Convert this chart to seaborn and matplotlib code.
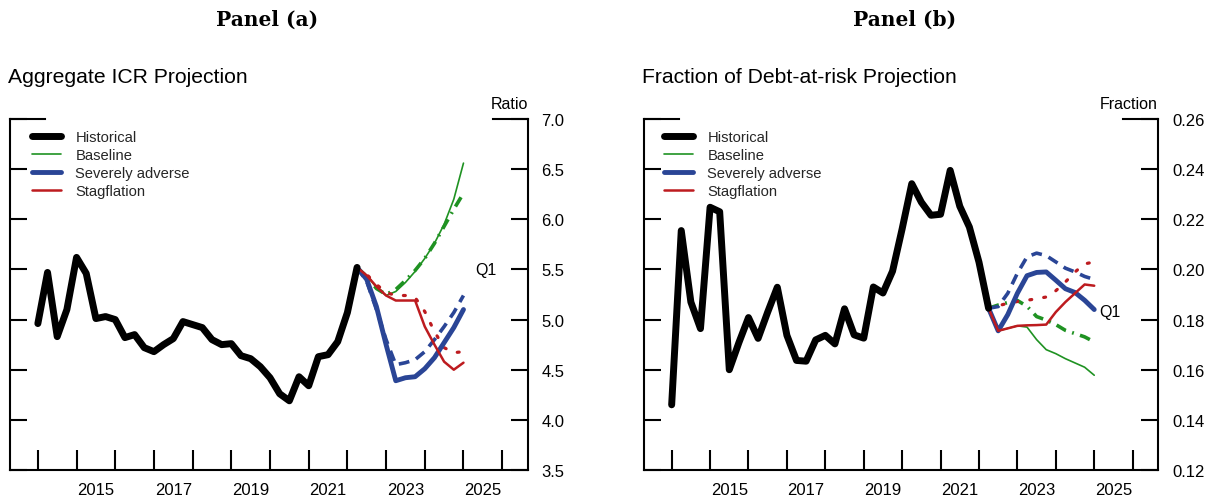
import numpy as np
import pandas as pd
import matplotlib
matplotlib.use("Agg")
import matplotlib.pyplot as plt
import seaborn as sns

# ---------------------------------------------------------------------------
# Data (quarterly).  Historical series start in 2014Q1, projections in 2022Q2.
# ---------------------------------------------------------------------------
HIST_START = "2014Q1"
PROJ_START = "2022Q2"

# Panel (a): aggregate interest coverage ratio
icr_hist = [4.96, 5.47, 4.83, 5.10, 5.62, 5.46, 5.01, 5.03, 5.00, 4.82,
            4.85, 4.72, 4.68, 4.75, 4.81, 4.98, 4.95, 4.92, 4.80, 4.75,
            4.76, 4.64, 4.61, 4.53, 4.42, 4.26, 4.19, 4.43, 4.34, 4.63,
            4.65, 4.78, 5.07, 5.52]
icr_base = [5.52, 5.44, 5.32, 5.24, 5.28, 5.37, 5.48, 5.61, 5.76, 5.95, 6.20, 6.56]
icr_base_q1 = [5.52, 5.43, 5.31, 5.25, 5.30, 5.39, 5.49, 5.61, 5.76, 5.93, 6.10, 6.26]
icr_sev = [5.52, 5.40, 5.13, 4.75, 4.39, 4.42, 4.43, 4.51, 4.62, 4.77, 4.92, 5.10]
icr_sev_q1 = [5.52, 5.38, 5.10, 4.80, 4.55, 4.57, 4.60, 4.68, 4.80, 4.93, 5.07, 5.24]
icr_stag = [5.52, 5.44, 5.33, 5.24, 5.19, 5.19, 5.19, 4.93, 4.75, 4.58, 4.50, 4.57]
icr_stag_q1 = [5.52, 5.45, 5.35, 5.27, 5.24, 5.24, 5.22, 5.08, 4.88, 4.72, 4.67, 4.68]

# Panel (b): fraction of debt at risk
frac_hist = [0.1460, 0.2155, 0.1870, 0.1764, 0.2248, 0.2230, 0.1600, 0.1708,
             0.1808, 0.1725, 0.1830, 0.1929, 0.1737, 0.1637, 0.1634, 0.1719,
             0.1737, 0.1703, 0.1843, 0.1739, 0.1726, 0.1930, 0.1906, 0.1993,
             0.2162, 0.2342, 0.2268, 0.2216, 0.2220, 0.2395, 0.2252, 0.2169,
             0.2029, 0.1845]
frac_base = [0.1845, 0.1755, 0.1765, 0.1775, 0.1770, 0.1720, 0.1680, 0.1664, 0.1644, 0.1627, 0.1610, 0.1578]
frac_base_q1 = [0.1845, 0.1858, 0.1868, 0.1876, 0.1853, 0.1812, 0.1798, 0.1780, 0.1757, 0.1744, 0.1731, 0.1711]
frac_sev = [0.1845, 0.1755, 0.1820, 0.1905, 0.1975, 0.1988, 0.1990, 0.1957, 0.1923, 0.1908, 0.1877, 0.1840]
frac_sev_q1 = [0.1845, 0.1852, 0.1905, 0.1985, 0.2050, 0.2065, 0.2055, 0.2030, 0.2005, 0.1990, 0.1972, 0.1960]
frac_stag = [0.1845, 0.1755, 0.1765, 0.1775, 0.1777, 0.1778, 0.1780, 0.1830, 0.1870, 0.1905, 0.1940, 0.1935]
frac_stag_q1 = [0.1845, 0.1855, 0.1865, 0.1872, 0.1877, 0.1883, 0.1890, 0.1915, 0.1950, 0.1990, 0.2022, 0.2030]

legend_labels = ["Historical", "Baseline", "Severely adverse", "Stagflation"]
year_labels = ["2015", "2017", "2019", "2021", "2023", "2025"]

# ---------------------------------------------------------------------------
GREEN = "#1f9222"
BLUE = "#2a4596"
RED = "#bd1b1f"

STYLES = {
    "hist":    dict(color="black", linewidth=5.0, solid_capstyle="round", solid_joinstyle="round"),
    "base":    dict(color=GREEN, linewidth=1.2),
    "base_q1": dict(color=GREEN, linewidth=2.6, linestyle=(0, (3.0, 1.8, 0.5, 1.8))),
    "sev":     dict(color=BLUE, linewidth=3.5, solid_joinstyle="round", solid_capstyle="round"),
    "sev_q1":  dict(color=BLUE, linewidth=2.6, linestyle=(0, (3.0, 2.0))),
    "stag":    dict(color=RED, linewidth=1.8),
    "stag_q1": dict(color=RED, linewidth=2.3, linestyle=(0, (0.6, 3.8)), dash_capstyle="round"),
}


def quarter_axis(start, n):
    p = pd.period_range(start, periods=n, freq="Q")
    return np.asarray(p.year + (p.quarter - 1) / 4.0, dtype=float)


def draw(ax, x, y, key):
    sns.lineplot(x=x, y=y, ax=ax, legend=False, sort=False, **STYLES[key])
    return ax.lines[-1]


def panel(ax, hist, proj, yticks, yfmt, unit, q1_xy, legend_x):
    xh = quarter_axis(HIST_START, len(hist))
    xp = quarter_axis(PROJ_START, len(proj["base"]))
    h_base = draw(ax, xp, proj["base"], "base")
    draw(ax, xp, proj["base_q1"], "base_q1")
    draw(ax, xp, proj["sev_q1"], "sev_q1")
    draw(ax, xp, proj["stag_q1"], "stag_q1")
    h_sev = draw(ax, xp, proj["sev"], "sev")
    h_stag = draw(ax, xp, proj["stag"], "stag")
    h_hist = draw(ax, xh, hist, "hist")

    ax.set_xlim(2013.28, 2026.66)
    ax.set_ylim(yticks[0], yticks[-1])
    ax.set_xlabel("")
    ax.set_ylabel("")

    # x axis: year boundaries as ticks, labels in the middle of odd years
    ax.set_xticks(np.arange(2014, 2027))
    ax.set_xticklabels([])
    ax.set_xticks([int(s) + 0.5 for s in year_labels], minor=True)
    ax.set_xticklabels(year_labels, minor=True)
    ax.tick_params(axis="x", which="major", direction="in", length=14.5,
                   width=1.5, color="black", bottom=True, top=False)
    ax.tick_params(axis="x", which="minor", length=0, pad=8.5,
                   labelsize=12, labelcolor="black")

    # y axis: labels on the right, inward ticks on both sides
    ax.set_yticks(yticks)
    ax.set_yticklabels([yfmt.format(v) for v in yticks])
    ax.tick_params(axis="y", direction="in", length=12, width=1.5, color="black",
                   left=True, right=True, labelleft=False, labelright=True,
                   pad=10, labelsize=12, labelcolor="black")

    for side in ("left", "right", "bottom"):
        ax.spines[side].set_visible(True)
        ax.spines[side].set_color("black")
        ax.spines[side].set_linewidth(1.5)
    ax.spines["top"].set_visible(False)
    # short stubs at both ends of the top edge
    w = ax.get_position().width * 1214
    stub = 35.0 / w
    for x0, x1 in ((0, stub), (1 - stub, 1)):
        ax.plot([x0, x1], [1, 1], transform=ax.transAxes, color="black",
                linewidth=1.5, clip_on=False, solid_capstyle="projecting")

    ax.text(1.0, 1.043, unit, transform=ax.transAxes, ha="right", va="center",
            fontsize=11.5, color="black")
    ax.text(q1_xy[0], q1_xy[1], "Q1", ha="left", va="center", fontsize=11.5,
            color="black")

    leg = ax.legend([h_hist, h_base, h_sev, h_stag], legend_labels, loc="upper left",
                    bbox_to_anchor=(legend_x, 0.968), frameon=False, fontsize=10.6,
                    handlelength=2.0, handletextpad=0.95, labelspacing=0.26,
                    borderpad=0, borderaxespad=0)
    for line in leg.get_lines():
        line.set_solid_capstyle("round")
    ax.grid(False)


sns.set_theme(style="white")
plt.rcParams["font.family"] = ["Liberation Sans", "DejaVu Sans"]

fig = plt.figure(figsize=(12.14, 5.02), dpi=100)
ax_a = fig.add_axes([10 / 1214, 31 / 502, 517.7 / 1214, 351 / 502])
ax_b = fig.add_axes([644 / 1214, 31 / 502, 514 / 1214, 351 / 502])

panel(ax_a, icr_hist,
      dict(base=icr_base, base_q1=icr_base_q1, sev=icr_sev, sev_q1=icr_sev_q1,
           stag=icr_stag, stag_q1=icr_stag_q1),
      np.round(np.arange(3.5, 7.01, 0.5), 2), "{:.1f}", "Ratio",
      (2025.3, 5.5), 0.0425)
panel(ax_b, frac_hist,
      dict(base=frac_base, base_q1=frac_base_q1, sev=frac_sev, sev_q1=frac_sev_q1,
           stag=frac_stag, stag_q1=frac_stag_q1),
      np.round(np.arange(0.12, 0.2601, 0.02), 2), "{:.2f}", "Fraction",
      (2025.12, 0.1832), 0.039)

for ax, title in ((ax_a, "Aggregate ICR Projection"),
                  (ax_b, "Fraction of Debt-at-risk Projection")):
    ax.text(-0.004, 1.1225, title, transform=ax.transAxes, ha="left", va="center",
            fontsize=15.2, color="black")

fig.text(267 / 1214, 1 - 20 / 502, "Panel (a)", ha="center", va="center",
         fontsize=14.5, fontweight="bold", family="DejaVu Serif", color="black")
fig.text(905 / 1214, 1 - 20 / 502, "Panel (b)", ha="center", va="center",
         fontsize=14.5, fontweight="bold", family="DejaVu Serif", color="black")

fig.savefig("out.png", dpi=100, facecolor="white")
